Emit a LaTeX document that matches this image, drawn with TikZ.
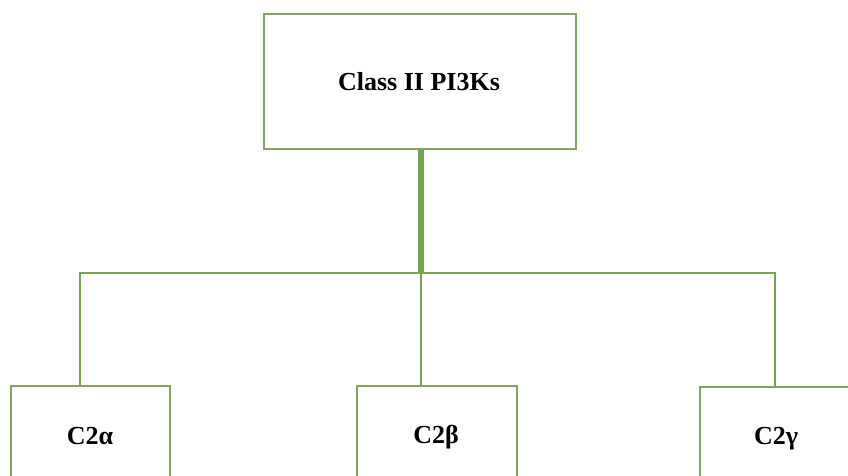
\documentclass[tikz,border=0pt]{standalone}
\usepackage{fontspec}
\setmainfont{Liberation Serif}
\begin{document}
\begin{tikzpicture}[x=1pt,y=-1pt,
  boxline/.style={draw=boxgreen,line width=1.5pt,fill=white,inner sep=0pt},
  label/.style={font=\fontsize{26}{30}\selectfont\bfseries},
  link/.style={draw=linkgreen,line width=2.3pt},
  trunk/.style={draw=linkgreen,line width=5.5pt}]
  \definecolor{boxgreen}{RGB}{132,164,100}
  \definecolor{linkgreen}{RGB}{118,164,80}
  \useasboundingbox (0,0) rectangle (848,476);
  \clip (0,0) rectangle (848,476);
  \fill[white] (0,0) rectangle (848,476);

  % family root and its three members
  \node[boxline,minimum width=312pt,minimum height=135pt] (top) at (420,81.5) {};
  \node[label] (toplabel) at (419,82) {Class II PI3Ks};
  \node[boxline,minimum width=159pt,minimum height=102pt] (c2a) at (90.5,437) {};
  \node[label] (c2alabel) at (90,436) {C2α};
  \node[boxline,minimum width=160pt,minimum height=102pt] (c2b) at (437,437) {};
  \node[label] (c2blabel) at (436,437) {C2β};
  \node[boxline,minimum width=152pt,minimum height=106pt] (c2g) at (776,440) {};
  \node[label] (c2glabel) at (776,439) {C2γ};

  % branching points of the connector tree
  \coordinate (j) at (421,273);
  \coordinate (jl) at (80,273);
  \coordinate (jr) at (775,273);

  \draw[trunk] (j |- top.south) -- (j);
  \draw[link] ([xshift=-1.15pt]jl) -- ([xshift=1.15pt]jr);
  \draw[link] (jl) -- (jl |- c2a.north);
  \draw[link] (j) -- (j |- c2b.north);
  \draw[link] (jr) -- (jr |- c2g.north);
\end{tikzpicture}
\end{document}
